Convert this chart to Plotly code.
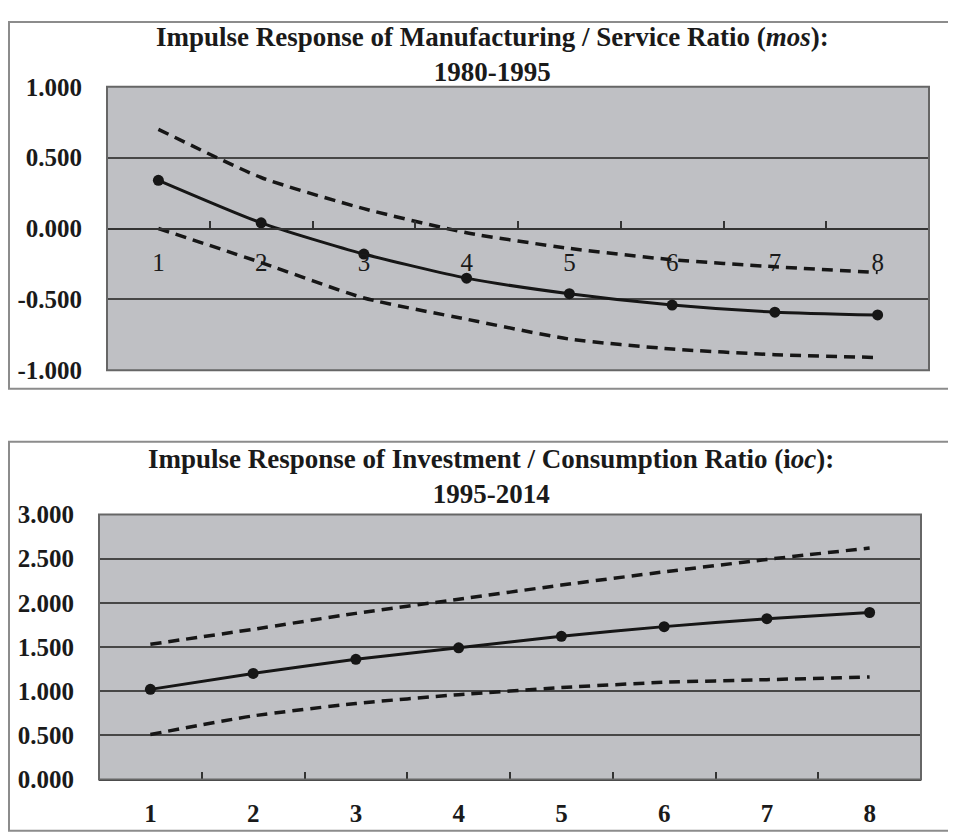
import plotly.graph_objects as go

# ---------------- data ----------------
periods = ["1", "2", "3", "4", "5", "6", "7", "8"]

mos_response = [0.34, 0.04, -0.18, -0.35, -0.46, -0.54, -0.59, -0.61]
mos_upper = [0.70, 0.36, 0.14, -0.03, -0.14, -0.22, -0.27, -0.31]
mos_lower = [0.00, -0.24, -0.49, -0.64, -0.78, -0.85, -0.89, -0.91]

ioc_response = [1.02, 1.20, 1.36, 1.49, 1.62, 1.73, 1.82, 1.89]
ioc_upper = [1.53, 1.70, 1.88, 2.04, 2.20, 2.35, 2.49, 2.62]
ioc_lower = [0.51, 0.72, 0.86, 0.96, 1.04, 1.10, 1.13, 1.16]

mos_yticks = [-1.0, -0.5, 0.0, 0.5, 1.0]
mos_yticktext = ["-1.000", "-0.500", "0.000", "0.500", "1.000"]
ioc_yticks = [0.0, 0.5, 1.0, 1.5, 2.0, 2.5, 3.0]
ioc_yticktext = ["0.000", "0.500", "1.000", "1.500", "2.000", "2.500", "3.000"]

title_top = "<b>Impulse Response of Manufacturing / Service Ratio (<i>mos</i>):<br>1980-1995</b>"
title_bottom = "<b>Impulse Response of Investment / Consumption Ratio (i<i>oc</i>):<br>1995-2014</b>"

# ---------------- layout helpers ----------------
# page body has an 8px margin, so the figure is sized to fit the window
OFF = 8
W, H = 956 - OFF, 838 - OFF
FONT = "Liberation Serif"
LINE = "#161616"
DASH = "11px,7px"


def px_x(v):
    return (v - OFF) / W


def px_y(v):
    return (H - (v - OFF)) / H


fig = go.Figure()

# top chart traces
fig.add_trace(go.Scatter(x=periods, y=mos_upper, mode="lines", xaxis="x", yaxis="y",
                         line=dict(color=LINE, width=3.5, dash=DASH, shape="spline", smoothing=0.6)))
fig.add_trace(go.Scatter(x=periods, y=mos_lower, mode="lines", xaxis="x", yaxis="y",
                         line=dict(color=LINE, width=3.5, dash=DASH, shape="spline", smoothing=0.6)))
fig.add_trace(go.Scatter(x=periods, y=mos_response, mode="lines+markers", xaxis="x", yaxis="y",
                         line=dict(color=LINE, width=3, shape="spline", smoothing=0.6),
                         marker=dict(color=LINE, size=11)))

# bottom chart traces
fig.add_trace(go.Scatter(x=periods, y=ioc_upper, mode="lines", xaxis="x2", yaxis="y2",
                         line=dict(color=LINE, width=3.5, dash=DASH, shape="spline", smoothing=0.6)))
fig.add_trace(go.Scatter(x=periods, y=ioc_lower, mode="lines", xaxis="x2", yaxis="y2",
                         line=dict(color=LINE, width=3.5, dash=DASH, shape="spline", smoothing=0.6)))
fig.add_trace(go.Scatter(x=periods, y=ioc_response, mode="lines+markers", xaxis="x2", yaxis="y2",
                         line=dict(color=LINE, width=3, shape="spline", smoothing=0.6),
                         marker=dict(color=LINE, size=11)))

top_plot = dict(left=107, right=929, top=76, bottom=369)
bot_plot = dict(left=99, right=921, top=518, bottom=792)
zero_y_top = (top_plot["top"] + top_plot["bottom"]) / 2

grid = dict(showgrid=True, gridcolor="#474747", gridwidth=1.6, zeroline=False)


def title_ann(text, cx, cy):
    return dict(text=text, xref="paper", yref="paper", x=px_x(cx), y=px_y(cy),
                xanchor="center", yanchor="middle", showarrow=False, align="center",
                font=dict(family=FONT, size=27, color="#1a1a1a"))


fig.update_layout(
    width=W, height=H, autosize=False,
    margin=dict(l=0, r=0, t=0, b=0, pad=0),
    paper_bgcolor="white",
    plot_bgcolor="#bfc0c4",
    showlegend=False,
    xaxis=dict(
        domain=[px_x(top_plot["left"]), px_x(top_plot["right"])],
        anchor="free", position=px_y(zero_y_top),
        type="category", range=[-0.5, 7.5],
        showline=True, linecolor="#333333", linewidth=2,
        ticks="inside", tickson="boundaries", ticklen=7, tickwidth=1.5, tickcolor="#333333",
        tickfont=dict(family=FONT, size=25, color="#1a1a1a"),
        ticklabelstandoff=11,
        showgrid=False, zeroline=False,
    ),
    yaxis=dict(
        domain=[px_y(top_plot["bottom"]), px_y(top_plot["top"])],
        anchor="x", range=[-1, 1],
        tickvals=mos_yticks, ticktext=mos_yticktext,
        tickfont=dict(family=FONT, size=25, color="#1a1a1a", weight="bold"),
        ticks="", ticklabelstandoff=24,
        **grid,
    ),
    xaxis2=dict(
        domain=[px_x(bot_plot["left"]), px_x(bot_plot["right"])],
        anchor="y2", type="category", range=[-0.5, 7.5],
        showline=True, linecolor="#333333", linewidth=2,
        ticks="inside", tickson="boundaries", ticklen=7, tickwidth=1.5, tickcolor="#333333",
        tickfont=dict(family=FONT, size=25, color="#1a1a1a", weight="bold"),
        ticklabelstandoff=11,
        showgrid=False, zeroline=False,
    ),
    yaxis2=dict(
        domain=[px_y(bot_plot["bottom"]), px_y(bot_plot["top"])],
        anchor="x2", range=[0, 3],
        tickvals=ioc_yticks, ticktext=ioc_yticktext,
        tickfont=dict(family=FONT, size=25, color="#1a1a1a", weight="bold"),
        ticks="", ticklabelstandoff=24,
        **grid,
    ),
    shapes=[
        # outer chart frames
        dict(type="rect", xref="paper", yref="paper", layer="below",
             x0=px_x(9), x1=1.1, y0=px_y(388), y1=px_y(9),
             line=dict(color="#8c8c8c", width=2), fillcolor="rgba(0,0,0,0)"),
        dict(type="rect", xref="paper", yref="paper", layer="below",
             x0=px_x(9), x1=1.1, y0=px_y(845), y1=px_y(443),
             line=dict(color="#8c8c8c", width=2), fillcolor="rgba(0,0,0,0)"),
        # plot-area borders
        dict(type="rect", xref="x domain", yref="y domain", layer="above",
             x0=0, x1=1, y0=0, y1=1, line=dict(color="#666666", width=2)),
        dict(type="rect", xref="x2 domain", yref="y2 domain", layer="above",
             x0=0, x1=1, y0=0, y1=1, line=dict(color="#666666", width=2)),
    ],
    annotations=[
        title_ann(title_top, 492, 43),
        title_ann(title_bottom, 491, 479),
    ],
)

fig.write_html("out.html")
